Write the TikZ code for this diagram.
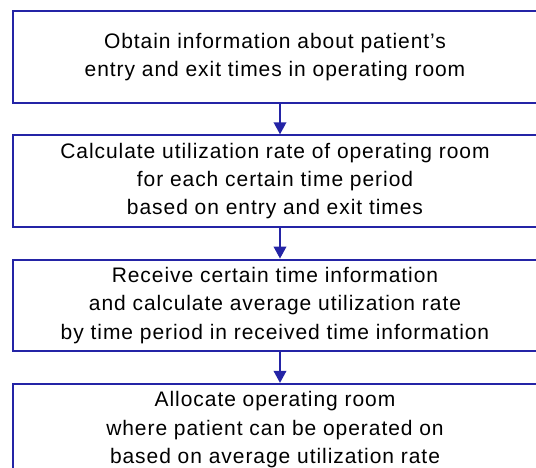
\documentclass[tikz,border=0pt]{standalone}
\usepackage{fontspec}
\setmainfont{Liberation Sans}[LetterSpace=4.5]
\usepackage{tikz}
\usetikzlibrary{calc}
\usetikzlibrary{positioning}
\usetikzlibrary{arrows.meta}
\definecolor{flowblue}{RGB}{36,36,166}

\begin{document}
\begin{tikzpicture}[x=1pt,y=1pt,
    stepbox/.style={draw=flowblue,line width=2pt,minimum width=525pt,minimum height=91.5pt,
      inner sep=0pt,align=center,font=\fontsize{21}{28.3}\selectfont,
      execute at begin node={\vspace*{11pt}}},
    flow/.style={draw=flowblue,line width=2pt,-{Triangle[width=12.5pt,length=12pt]}}
  ]
    \path[use as bounding box,clip] (0,0) rectangle (536,-467);
    \coordinate (axis) at (280,0);

    \node[stepbox] (obtain) at (275,-56.75)
      {Obtain information about patient's\\entry and exit times in operating room};
    \node[stepbox,below=30.8pt of obtain] (rate)
      {Calculate utilization rate of operating room\\for each certain time period\\based on entry and exit times};
    \node[stepbox,below=30.8pt of rate] (average)
      {Receive certain time information\\and calculate average utilization rate\\by time period in received time information};
    \node[stepbox,below=30.8pt of average] (allocate)
      {Allocate operating room\\where patient can be operated on\\based on average utilization rate};

    % arrows down the middle
    \draw[flow] (obtain.south -| axis) -- (rate.north -| axis);
    \draw[flow] (rate.south -| axis) -- (average.north -| axis);
    \draw[flow] (average.south -| axis) -- (allocate.north -| axis);
  \end{tikzpicture}
\end{document}
